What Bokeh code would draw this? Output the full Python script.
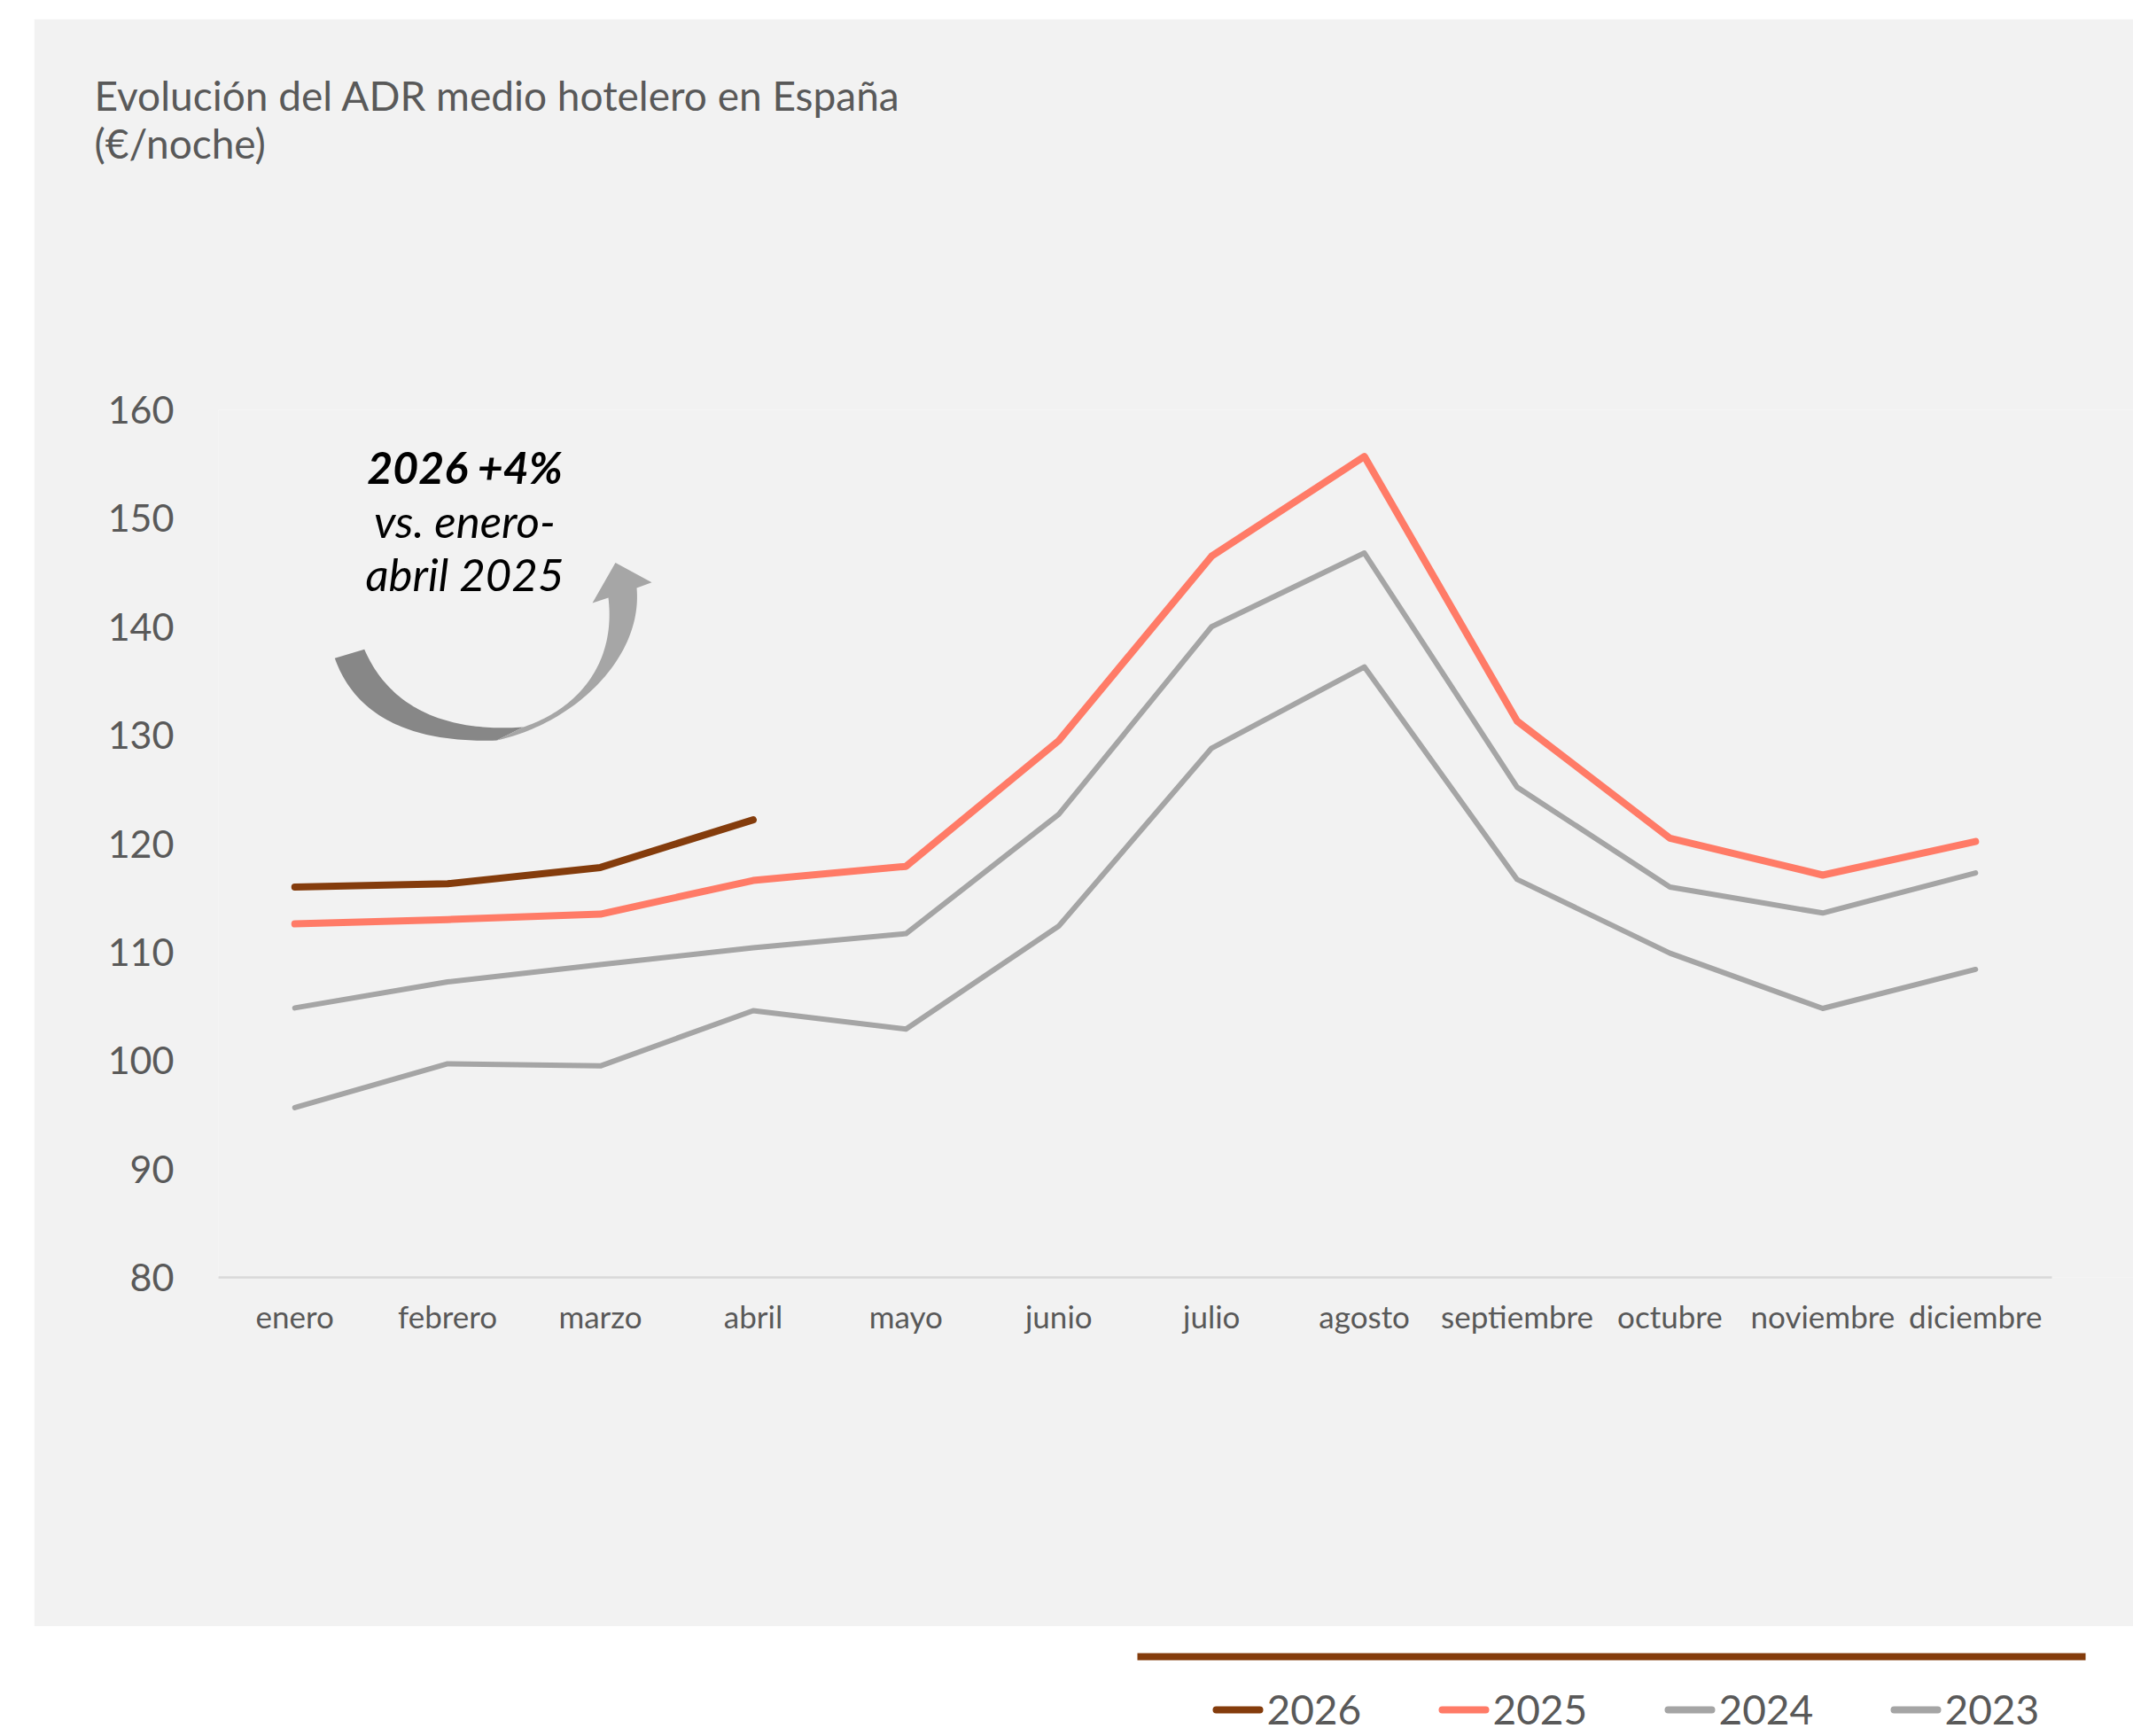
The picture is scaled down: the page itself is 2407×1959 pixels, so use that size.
import numpy as np
from bokeh.plotting import figure
from bokeh.models import Range1d, Label, FixedTicker, Title
from bokeh.layouts import column
from bokeh.embed import file_html
from bokeh.resources import INLINE
from bokeh.core.properties import value

# ---------------- data ----------------
months = ["enero", "febrero", "marzo", "abril", "mayo", "junio", "julio",
          "agosto", "septiembre", "octubre", "noviembre", "diciembre"]
adr_2026 = [116.0, 116.3, 117.8, 122.2]
adr_2025 = [112.6, 113.0, 113.5, 116.6, 117.9, 129.5, 146.5, 155.7, 131.3, 120.5, 117.1, 120.2]
adr_2024 = [104.85, 107.25, 108.85, 110.4, 111.7, 122.7, 140.0, 146.8, 125.2, 116.0, 113.6, 117.3]
adr_2023 = [95.65, 99.7, 99.5, 104.6, 102.9, 112.4, 128.8, 136.3, 116.7, 109.9, 104.8, 108.4]
y_ticks = [80, 90, 100, 110, 120, 130, 140, 150, 160]
series_labels = ["2026", "2025", "2024", "2023"]
title_lines = ["Evolución del ADR medio hotelero en España", "(€/noche)"]
note_lines = ["2026 +4%", "vs. enero-", "abril 2025"]

# ---------------- styles ----------------
FONT = "Lato"
TXT = "#595959"
BG = "#f2f2f2"
C2026 = "#843c0c"
C2025 = "#ff7b67"
CGRAY = "#a5a5a5"
series_colors = [C2026, C2025, CGRAY, CGRAY]

# ---------------- geometry (page pixels) ----------------
PAGE_W, PAGE_H = 2407, 1959
PANEL_L, PANEL_T = 38, 21
PANEL_W, PANEL_H = PAGE_W - PANEL_L, 1814
FRAME_L = 246                 # left of plotting area
AXIS_R = 2315                 # right end of the category axis
Y80_PX, Y160_PX = 1441, 462   # pixel rows of 80 and 160
FRAME_T = Y160_PX
BORDER_L = FRAME_L - PANEL_L
PXU = (Y80_PX - Y160_PX) / (160 - 80)
CAT_W = (AXIS_R - FRAME_L) / len(months)
X_END = (PAGE_W - FRAME_L) / CAT_W

xs = [i + 0.5 for i in range(len(months))]


def sx(px):
    return (px - FRAME_L) / CAT_W


def sy(py):
    return 80 + (Y80_PX - py) / PXU


p = figure(width=PANEL_W, height=PANEL_H,
           x_range=Range1d(0, X_END), y_range=Range1d(80, 160),
           output_backend="svg", toolbar_location=None, title_location=None,
           min_border_left=BORDER_L, min_border_right=0,
           min_border_top=FRAME_T - PANEL_T,
           min_border_bottom=PANEL_T + PANEL_H - Y80_PX,
           background_fill_color=BG, border_fill_color=BG,
           outline_line_color=None, margin=(PANEL_T, 0, 0, PANEL_L))
p.xgrid.visible = False
p.ygrid.visible = False

p.yaxis.ticker = FixedTicker(ticks=y_ticks)
p.yaxis.axis_line_color = None
p.yaxis.major_tick_line_color = None
p.yaxis.minor_tick_line_color = None
p.yaxis.major_tick_out = 0
p.yaxis.major_tick_in = 0
p.yaxis.major_label_standoff = 50
p.yaxis.major_label_text_font = FONT
p.yaxis.major_label_text_font_size = "43px"
p.yaxis.major_label_text_color = TXT

p.xaxis.ticker = FixedTicker(ticks=xs)
p.xaxis.major_label_overrides = {x: m for x, m in zip(xs, months)}
p.xaxis.bounds = (0, len(months))
p.xaxis.axis_line_color = "#d9d9d9"
p.xaxis.axis_line_width = 2.5
p.xaxis.major_tick_line_color = None
p.xaxis.minor_tick_line_color = None
p.xaxis.major_tick_out = 0
p.xaxis.major_tick_in = 0
p.xaxis.major_label_standoff = 22
p.xaxis.major_label_text_font = FONT
p.xaxis.major_label_text_font_size = "35px"
p.xaxis.major_label_text_color = TXT

# ---------------- title (two lines, high above the plot area) ----------------
# an almost empty spacer title next to the plot area lifts the two text lines
p.add_layout(Title(text=" ", text_font_size="1px", standoff=268,
                   text_color=BG), "above")
for txt, stand in zip(reversed(title_lines), [5, -10]):
    p.add_layout(Title(text=txt, align="left", offset=106 - FRAME_L,
                       text_font=FONT, text_font_size="46px",
                       text_font_style="normal", text_color=TXT,
                       standoff=stand), "above")

# ---------------- curved arrow (decoration) ----------------
def bez(p0, p1, p2, p3, n=60):
    t = np.linspace(0, 1, n)[:, None]
    return ((1 - t) ** 3) * np.array(p0) + 3 * ((1 - t) ** 2) * t * np.array(p1) \
        + 3 * (1 - t) * t ** 2 * np.array(p2) + t ** 3 * np.array(p3)

dark = np.vstack([bez((377.3, 742.3), (402, 812), (470, 838), (560, 835)),
                  bez((410.7, 732.3), (440, 800), (505, 826), (590, 820))[::-1]])
p.patch(x=[sx(v) for v in dark[:, 0]], y=[sy(v) for v in dark[:, 1]],
        fill_color="#878787", line_color=None)

light = np.vstack([bez((560, 835), (650, 815), (725, 740), (718, 663)),
                   np.array([(735, 656.7), (694, 634.5), (668, 680), (686, 674)]),
                   bez((686, 674), (695, 750), (650, 800), (590, 820))])
p.patch(x=[sx(v) for v in light[:, 0]], y=[sy(v) for v in light[:, 1]],
        fill_color="#a6a6a6", line_color=None)

# ---------------- series ----------------
common = dict(line_cap="round", line_join="round")
p.line(xs, adr_2023, line_color=CGRAY, line_width=6, **common)
p.line(xs, adr_2024, line_color=CGRAY, line_width=6, **common)
p.line(xs, adr_2025, line_color=C2025, line_width=8, **common)
p.line(xs[:len(adr_2026)], adr_2026, line_color=C2026, line_width=8, **common)

# ---------------- annotation text ----------------
BASE_FIX = 0.375  # renderer shift of the alphabetic baseline, in em


def base(py, fs):
    return sy(py - BASE_FIX * fs)


for txt, py, fs, style in zip(note_lines, [545, 606, 666], [50, 51, 51],
                              ["bold italic", "italic", "italic"]):
    p.add_layout(Label(x=sx(524), y=base(py, fs), text=txt, text_font=FONT,
                       text_font_size=f"{fs}px", text_font_style=style,
                       text_color="#000000", text_align="center",
                       text_baseline="alphabetic"))

# ---------------- bottom strip: rule + legend ----------------
STRIP_T = PANEL_T + PANEL_H
p2 = figure(width=PAGE_W, height=PAGE_H - STRIP_T,
            x_range=Range1d(BORDER_L, PAGE_W), y_range=Range1d(PAGE_H, STRIP_T),
            output_backend="svg", toolbar_location=None,
            x_axis_location=None, y_axis_location=None,
            min_border_left=BORDER_L, min_border_right=0,
            min_border_top=0, min_border_bottom=0,
            background_fill_color="white", border_fill_color="white",
            outline_line_color=None)
p2.grid.visible = False

p2.quad(left=[1283], right=[2353], top=[1865], bottom=[1873],
        fill_color=C2026, line_color=None)

LEG_X0, LEG_STEP, LEG_LEN, LEG_Y, LEG_FS = 1372, 255, 49, 1929, 46
lx0 = [LEG_X0 + i * LEG_STEP for i in range(len(series_labels))]
p2.segment(x0=lx0, x1=[x + LEG_LEN for x in lx0], y0=[LEG_Y] * 4, y1=[LEG_Y] * 4,
           line_color=series_colors, line_width=8, line_cap="round")
p2.text(x=[x + LEG_LEN + 8 for x in lx0], y=[1946 - BASE_FIX * LEG_FS] * 4,
        text=series_labels, text_font=value(FONT), text_font_size=f"{LEG_FS}px",
        text_color=TXT, text_align="left", text_baseline="alphabetic")

layout = column(p, p2)
open("out.html", "w").write(file_html(layout, INLINE))
